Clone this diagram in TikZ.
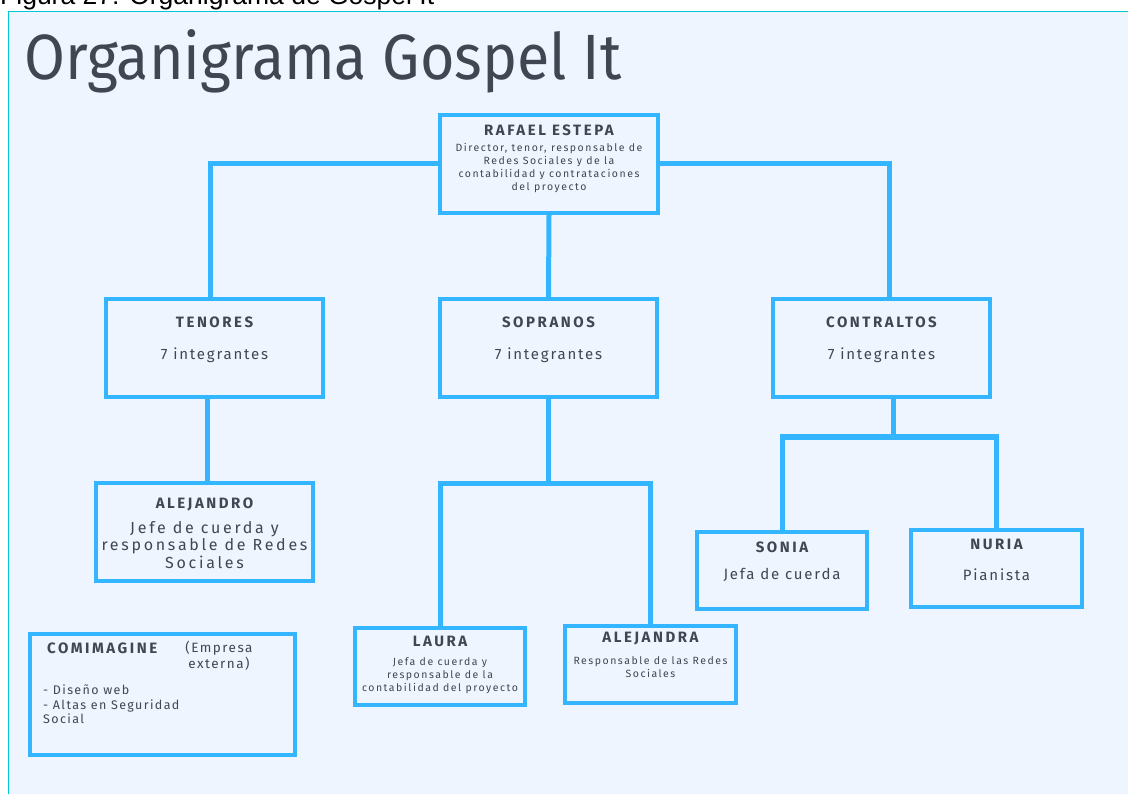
\documentclass[tikz,border=0pt]{standalone}
\usepackage{fontspec}
\setmainfont{Fira Sans}
\newfontfamily\capfont{Liberation Sans}
\newfontfamily\orgfont{Fira Sans}
\usetikzlibrary{positioning}

\definecolor{boxblue}{RGB}{51,181,255}
\definecolor{paper}{RGB}{238,245,255}
\definecolor{ink}{RGB}{64,70,82}
\definecolor{frame}{RGB}{0,200,220}

\begin{document}
\begin{tikzpicture}[x=1pt, y=-1pt,
	box/.style={draw=boxblue, line width=4pt, fill=paper, inner sep=0pt},
	head/.style={text=ink, inner sep=0pt, font=\orgfont\bfseries\addfontfeature{LetterSpace=17}\fontsize{15}{17}\selectfont},
	body/.style={text=ink, inner sep=0pt, align=center, font=\orgfont\addfontfeature{LetterSpace=12}\fontsize{15}{18}\selectfont},
	small/.style={text=ink, inner sep=0pt, align=center, font=\orgfont\addfontfeature{LetterSpace=14.5}\fontsize{10.5}{13}\selectfont},
	link/.style={draw=boxblue, line width=5pt}]
		\useasboundingbox (0,0) rectangle (1128,794);
		\clip (0,0) rectangle (1128,794);
		\fill[white] (0,0) rectangle (1128,794);
		\node[anchor=base west, inner sep=0pt, font=\capfont\fontsize{26.5}{30}\selectfont] (caption) at (0,5) {Figura 27: Organigrama de Gospel It};
		\fill[paper] (8,12) rectangle (1128,794);
		\draw[frame, line width=1pt] (8,794) -- (8,12) -- (1128,12);

		\node[anchor=base west, inner sep=0pt, text=ink, font=\fontsize{64}{70}\selectfont] (title) at (24,80) {\scalebox{0.925}[1]{Organigrama Gospel It}};

		\node[box, minimum width=218pt, minimum height=98pt] (raf) at (549,164) {};
		\node[box, minimum width=217pt, minimum height=98pt] (ten) at (214.5,348) {};
		\node[box, minimum width=217pt, minimum height=98pt] (sop) at (548.5,348) {};
		\node[box, minimum width=217pt, minimum height=98pt] (con) at (881.5,348) {};
		\node[box, minimum width=217pt, minimum height=98pt] (alo) at (204.5,532) {};
		\node[box, minimum width=265pt, minimum height=121pt] (com) at (162.5,694.5) {};
		\node[box, minimum width=170pt, minimum height=77pt] (lau) at (440,666.5) {};
		\node[box, minimum width=171pt, minimum height=77pt] (ala) at (650.5,664.5) {};
		\node[box, minimum width=170pt, minimum height=77pt] (son) at (782,570.5) {};
		\node[box, minimum width=171pt, minimum height=77pt] (nur) at (996.5,568.5) {};

		\coordinate (sopbar) at (546,483);
		\coordinate (conbar) at (893,437);

		\draw[link] (raf.west) -| ([xshift=-4pt]ten.north);
		\draw[link] (raf.east) -| ([xshift=8pt]con.north);
		\draw[link] (raf.south) -- (sop.north);
		\draw[link] ([xshift=-7pt]ten.south) -- ([xshift=-7pt]ten.south |- alo.north);
		\draw[link] (sop.south) -- (sop.south |- sopbar);
		\draw[link] (lau.north) |- (sopbar) -| (ala.north);
		\draw[link] (con.south -| conbar) -- (conbar);
		\draw[link] (son.north) |- (conbar) -| (nur.north);

		\node[head] (rafh) at (549,130) {RAFAEL ESTEPA};
		\node[small] (rafb) at (549,168.5) {Director, tenor, responsable de\\Redes Sociales y de la\\contabilidad y contrataciones\\del proyecto};
		\node[head] (tenh) at (214.5,322) {TENORES};
		\node[body] (tenb) at (214.5,355) {7 integrantes};
		\node[head] (soph) at (548.5,322) {SOPRANOS};
		\node[body] (sopb) at (548.5,355) {7 integrantes};
		\node[head] (conh) at (881.5,322) {CONTRALTOS};
		\node[body] (conb) at (881.5,355) {7 integrantes};
		\node[head] (aloh) at (204.5,504) {ALEJANDRO};
		\node[body, font=\orgfont\addfontfeature{LetterSpace=17}\fontsize{16}{17.5}\selectfont] (alob) at (204.5,545) {Jefe de cuerda y\\responsable de Redes\\Sociales};
		\node[head, anchor=west] (comh) at (47,648) {COMIMAGINE};
		\node[body, font=\orgfont\addfontfeature{LetterSpace=11}\fontsize{13.5}{16}\selectfont] (comx) at (219,656) {(Empresa\\externa)};
		\node[body, anchor=north west, align=left, font=\orgfont\addfontfeature{LetterSpace=11}\fontsize{12.5}{14.5}\selectfont] (comb) at (43,685) {- Diseño web\\- Altas en Seguridad\\Social};
		\node[head] (lauh) at (440,641) {LAURA};
		\node[small] (laub) at (440,676) {Jefa de cuerda y\\responsable de la\\contabilidad del proyecto};
		\node[head] (alah) at (650.5,639) {ALEJANDRA};
		\node[small] (alab) at (650.5,667.5) {Responsable de las Redes\\Sociales};
		\node[head] (sonh) at (782,547) {SONIA};
		\node[body] (sonb) at (782,575) {Jefa de cuerda};
		\node[head] (nurh) at (996.5,544) {NURIA};
		\node[body] (nurb) at (996.5,575) {Pianista};
	\end{tikzpicture}
\end{document}
